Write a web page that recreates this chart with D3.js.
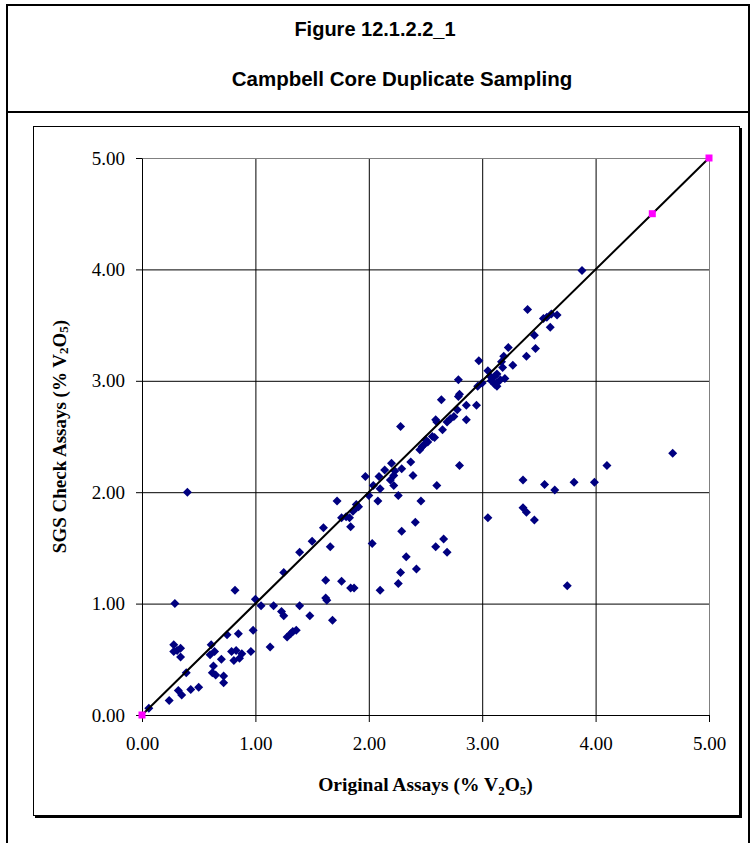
<!DOCTYPE html>
<html>
<head>
<meta charset="utf-8">
<script src="https://d3js.org/d3.v7.min.js"></script>
<style>
body { margin: 0; background: #fff; }
</style>
</head>
<body>
<script>
// original assay vs SGS check assay (% V2O5)
let origX = [0.06,0.24,0.29,0.82,1.00,1.05,1.16,1.39,1.25,1.39,1.50,1.62,1.63,1.62,1.23,1.25,1.48,
	0.28,0.31,0.34,0.34,0.28,0.39,0.32,0.35,0.43,0.50,0.61,0.60,0.64,0.70,0.75,0.85,0.98,0.63,0.62,0.65,
	0.72,0.72,0.79,0.83,0.88,0.81,0.86,0.96,1.13,1.28,1.31,1.33,1.36,1.68,0.40,1.60,1.66,1.72,1.76,1.80,
	1.83,1.84,1.89,1.89,1.91,1.86,1.76,1.84,1.87,1.97,2.00,2.03,2.04,2.09,2.10,2.08,2.10,2.14,2.20,2.19,
	2.22,2.23,2.22,2.29,2.26,2.28,2.37,2.39,2.29,2.26,2.28,2.33,2.41,2.42,2.46,2.45,2.48,2.50,2.52,2.56,
	2.58,2.60,2.59,2.60,2.65,2.64,2.69,2.72,2.75,2.78,2.80,2.79,2.86,2.86,2.80,2.59,2.66,2.69,2.95,2.79,
	3.88,3.40,3.54,3.57,3.61,3.66,3.60,3.46,3.47,3.39,3.23,3.19,3.17,3.18,3.27,2.97,3.05,3.07,3.13,3.11,
	3.08,3.11,3.13,3.13,3.20,3.16,2.96,3.00,2.47,4.10,4.68,3.36,3.55,3.64,3.81,3.99,3.36,3.39,3.46,3.05,3.75];
let sgsY = [0.06,0.13,1.00,1.12,1.04,0.98,0.98,0.98,1.28,1.46,1.56,1.21,1.03,1.05,0.93,0.89,0.89,
	0.63,0.58,0.60,0.52,0.57,0.38,0.22,0.18,0.23,0.25,0.63,0.54,0.57,0.50,0.72,0.73,0.76,0.44,0.38,0.36,
	0.35,0.29,0.57,0.58,0.55,0.49,0.51,0.57,0.61,0.70,0.73,0.75,0.76,0.85,2.00,1.68,1.51,1.92,1.77,1.78,
	1.77,1.69,1.89,1.86,1.87,1.83,1.20,1.14,1.14,2.14,1.97,1.54,2.06,2.14,2.03,1.92,1.12,2.20,2.26,2.11,
	2.15,2.19,2.06,2.21,1.97,2.59,2.27,2.15,1.65,1.18,1.28,1.42,1.73,1.31,1.92,2.38,2.42,2.47,2.45,2.50,
	2.49,2.06,2.65,2.63,2.56,2.83,2.63,2.66,2.68,2.74,2.88,2.86,2.78,2.65,2.24,1.51,1.58,1.46,2.78,3.01,
	3.99,3.64,3.56,3.57,3.60,3.59,3.48,3.41,3.29,3.22,3.30,3.22,3.17,3.12,3.14,3.18,3.09,3.04,3.06,3.04,
	3.00,2.97,2.98,2.95,3.02,3.01,2.95,2.98,2.41,2.24,2.35,2.11,2.07,2.02,2.09,2.09,1.86,1.82,1.75,1.77,1.16];

// x = y reference line markers
let refX = [0, 4.5, 5];
let refY = [0, 4.5, 5];
let tickVals = [0, 1, 2, 3, 4, 5];

window.onload = function(){(function(){
let W = 751, H = 843;
let m = { top: 158, left: 142, bottom: 128, right: 42 },
	w = W - m.left - m.right,
	h = H - m.top - m.bottom;

let svg = d3.select("body").append("svg")
	.attr("width", W)
	.attr("height", H);

// page frame
svg.append("line").attr("x1", 7).attr("y1", 4).attr("x2", 7).attr("y2", H)
	.attr("stroke", "#000").attr("stroke-width", 2);
svg.append("line").attr("x1", 749).attr("y1", 4).attr("x2", 749).attr("y2", H)
	.attr("stroke", "#000").attr("stroke-width", 2);
svg.append("line").attr("x1", 6).attr("y1", 5).attr("x2", 750).attr("y2", 5)
	.attr("stroke", "#000").attr("stroke-width", 2);
svg.append("line").attr("x1", 6).attr("y1", 112).attr("x2", 750).attr("y2", 112)
	.attr("stroke", "#000").attr("stroke-width", 2);

svg.append("text").attr("x", 375).attr("y", 36)
	.attr("text-anchor", "middle")
	.style("font", "bold 20px 'Liberation Sans', Arial, sans-serif")
	.text("Figure 12.1.2.2_1");
svg.append("text").attr("x", 402).attr("y", 86)
	.attr("text-anchor", "middle")
	.style("font", "bold 20.5px 'Liberation Sans', Arial, sans-serif")
	.text("Campbell Core Duplicate Sampling");

// chart box with shadow
svg.append("rect").attr("x", 35).attr("y", 128).attr("width", 707).attr("height", 690)
	.attr("fill", "#000");
svg.append("rect").attr("x", 33.5).attr("y", 126.5).attr("width", 706).attr("height", 689)
	.attr("fill", "#fff").attr("stroke", "#000").attr("stroke-width", 1);

let g = svg.append("g")
	.attr("transform", "translate(" + m.left + "," + m.top + ")");

let x = d3.scaleLinear().domain([0, 5]).range([0, 567]),
	y = d3.scaleLinear().domain([0, 5]).range([557, 0]);

// grid
g.selectAll(".vg").data(tickVals.slice(1)).enter().append("line")
	.attr("x1", d => x(d) + 0.5).attr("x2", d => x(d) + 0.5)
	.attr("y1", 0).attr("y2", y(0))
	.attr("stroke", d => d == 5 ? "#808080" : "#000").attr("stroke-width", 1);
g.selectAll(".hg").data(tickVals.slice(1)).enter().append("line")
	.attr("y1", d => y(d) + 0.5).attr("y2", d => y(d) + 0.5)
	.attr("x1", 0).attr("x2", x(5))
	.attr("stroke", d => d == 5 ? "#808080" : "#000").attr("stroke-width", 1);

let xAxis = g.append("g")
	.attr("transform", "translate(0," + y(0) + ")")
	.call(d3.axisBottom(x).tickValues(tickVals).tickFormat(d3.format(".2f")).tickSizeInner(7).tickSizeOuter(0).tickPadding(15));
let yAxis = g.append("g")
	.call(d3.axisLeft(y).tickValues(tickVals).tickFormat(d3.format(".2f")).tickSizeInner(6).tickSizeOuter(0).tickPadding(11));
[xAxis, yAxis].forEach(function(a){
	a.select(".domain").attr("stroke", "#000");
	a.selectAll("line").attr("stroke", "#000");
	a.selectAll("text")
		.attr("fill", "#000")
		.style("font", "19px 'Liberation Serif', 'Times New Roman', serif");
});

// axis titles
let xt = g.append("text")
	.attr("x", x(2.5)).attr("y", y(0) + 76)
	.attr("text-anchor", "middle")
	.style("font", "bold 19.5px 'Liberation Serif', 'Times New Roman', serif");
xt.append("tspan").text("Original Assays (% V");
xt.append("tspan").attr("dy", 4).style("font-size", "13px").text("2");
xt.append("tspan").attr("dy", -4).text("O");
xt.append("tspan").attr("dy", 4).style("font-size", "13px").text("5");
xt.append("tspan").attr("dy", -4).text(")");

let yt = g.append("text")
	.attr("transform", "translate(" + (-76) + "," + y(2.5) + ") rotate(-90)")
	.attr("text-anchor", "middle")
	.style("font", "bold 19px 'Liberation Serif', 'Times New Roman', serif");
yt.append("tspan").text("SGS Check Assays (% V");
yt.append("tspan").attr("dy", 2).style("font-size", "13px").text("2");
yt.append("tspan").attr("dy", -2).text("O");
yt.append("tspan").attr("dy", 2).style("font-size", "13px").text("5");
yt.append("tspan").attr("dy", -2).text(")");

// data points
let data = origX.map((v, i) => ({ x: v, y: sgsY[i] }));
g.selectAll(".pt").data(data).enter().append("path")
	.attr("d", "M0,-4.5L4.5,0L0,4.5L-4.5,0Z")
	.attr("transform", d => "translate(" + x(d.x) + "," + y(d.y) + ")")
	.attr("fill", "#000080");

// 1:1 line
let ref = refX.map((v, i) => ({ x: v, y: refY[i] }));
g.append("path")
	.datum(ref)
	.attr("fill", "none")
	.attr("stroke", "#000")
	.attr("stroke-width", 2)
	.attr("d", d3.line().x(d => x(d.x)).y(d => y(d.y)));

g.selectAll(".ref").data(ref).enter().append("rect")
	.attr("x", d => x(d.x) - 3.5).attr("y", d => y(d.y) - 3.5)
	.attr("width", 7).attr("height", 7)
	.attr("fill", "#ff00ff");

})()}
</script>
</body>
</html>
